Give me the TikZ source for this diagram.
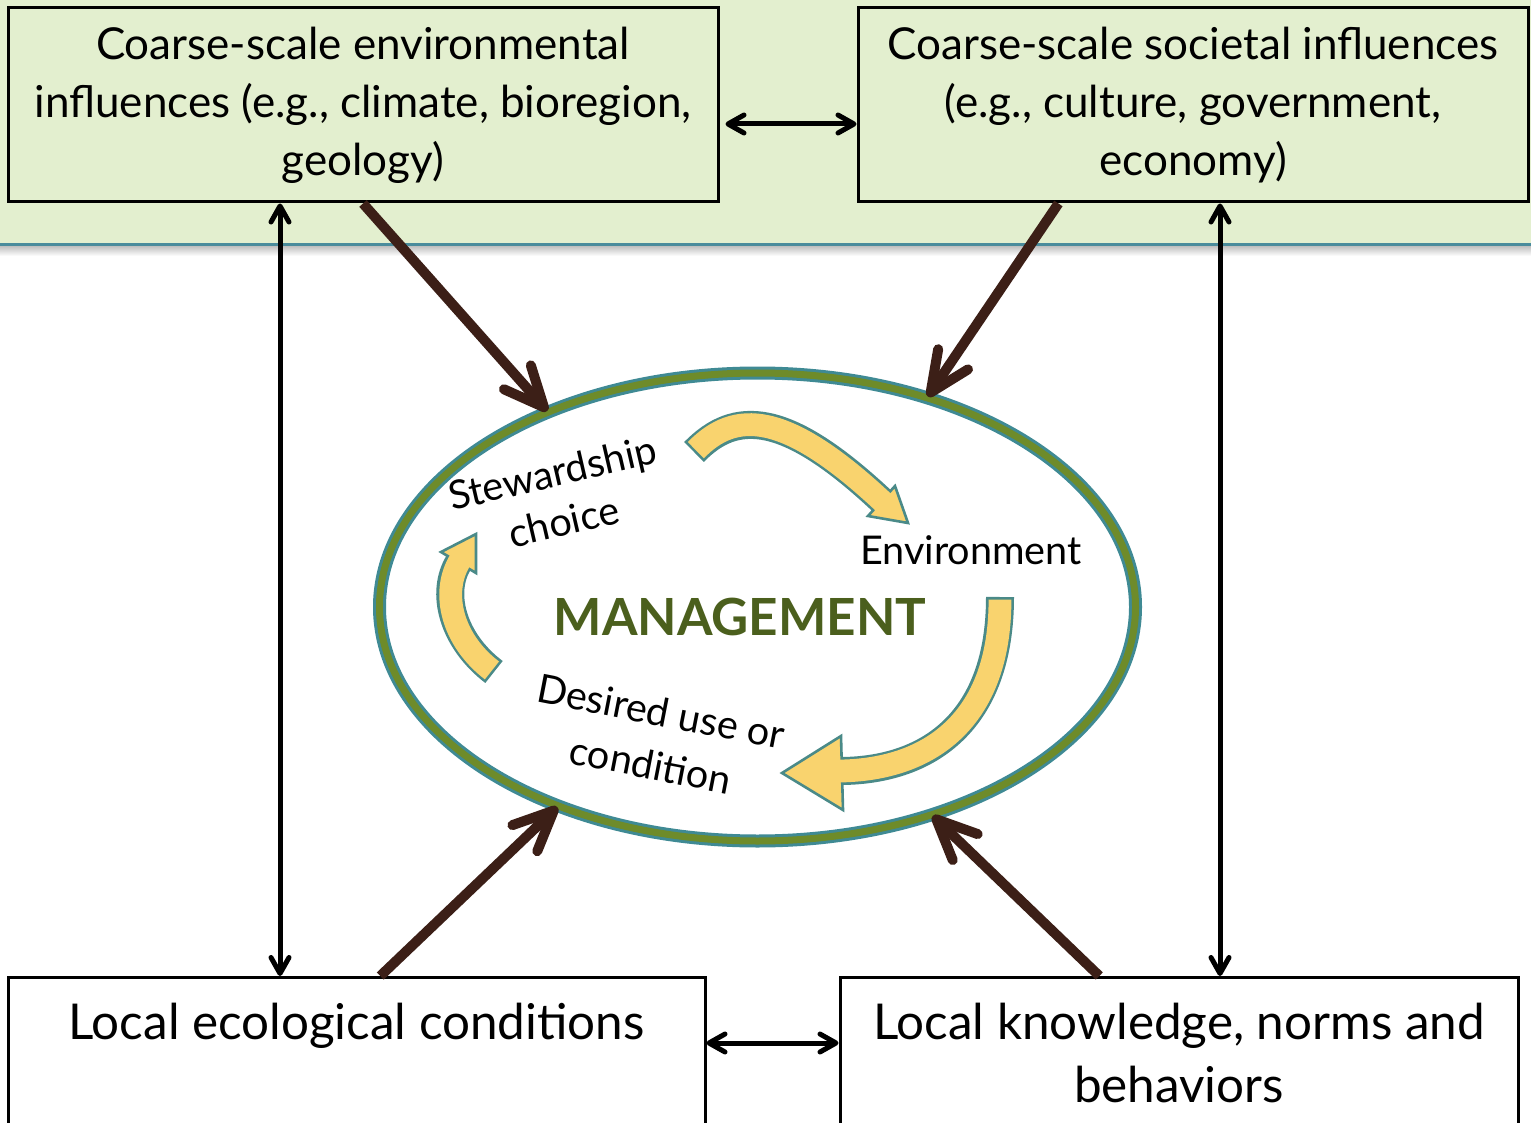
\documentclass[tikz,border=0pt]{standalone}
\usepackage{fontspec}
\setmainfont{Lato}
\usepackage{tikz}
\usetikzlibrary{calc,arrows.meta,shapes.geometric}

\definecolor{bandgreen}{HTML}{E3EFCF}
\definecolor{bandline}{HTML}{4A8C9C}
\definecolor{arrowbrown}{HTML}{3C1F17}
\definecolor{cycleyellow}{HTML}{F9D36E}
\definecolor{cycleteal}{HTML}{4A8A88}
\definecolor{ringteal}{HTML}{3F8A94}
\definecolor{ringolive}{HTML}{6E8B2A}
\definecolor{mgmtgreen}{HTML}{4B5F1D}

\tikzset{
  topbox/.style={draw, line width=1.5pt, align=center, inner sep=0pt,
    minimum height=97pt, font=\fontsize{22}{29}\selectfont},
  lowbox/.style={draw, fill=white, line width=1.5pt, align=center, anchor=north,
    inner sep=0pt, text height=31pt, text depth=49pt, font=\fontsize{24.7}{31.5}\selectfont},
  ring/.style={ellipse, draw=ringteal, line width=1.5pt, double=ringolive,
    double distance=3.5pt, minimum width=378pt, minimum height=234pt},
  cyclelabel/.style={font=\fontsize{19.8}{25}\selectfont, align=center, inner sep=0pt},
  pushes/.style={draw=arrowbrown, line width=5pt,
    -{Straight Barb[length=20pt,width=18pt,round]}},
  links/.style={line width=2.5pt,
    {Straight Barb[length=8pt,width=9pt,round]}-{Straight Barb[length=8pt,width=9pt,round]}},
  bandout/.style={draw=cycleteal, line width=14pt},
  bandin/.style={draw=cycleyellow, line width=11.4pt, shorten <=1.3pt, shorten >=-1.5pt},
  bandhead/.style={fill=cycleyellow, draw=cycleteal, line width=1.3pt, line join=miter}
}

% yellow cycle arrow: band path, then head corners
\newcommand{\cyclearrow}[2]{%
  \draw[bandout] #1;
  \filldraw[bandhead] #2 -- cycle;
  \draw[bandin] #1;
}

\begin{document}
\begin{tikzpicture}[x=0.5pt,y=-0.5pt]
\useasboundingbox (0,0) rectangle (1531,1123);
\fill[white] (0,0) rectangle (1531,1123);
\fill[bandgreen] (0,0) rectangle (1531,245);
\shade[top color=black!25, bottom color=white] (0,246) rectangle (1531,256);
\draw[bandline, line width=1.5pt] (0,245) -- (1531,245);

\node[topbox, minimum width=355pt] (env) at (363,105)
  {Coarse-scale environmental\\influences (e.g., climate, bioregion,\\geology)};
\node[topbox, minimum width=335pt] (soc) at (1193,105)
  {Coarse-scale societal influences\\(e.g., culture, government,\\economy)};
\node[lowbox, minimum width=348.5pt] (eco) at (356.5,976)
  {Local ecological conditions};
\node[lowbox, minimum width=339pt, text height=62.5pt, text depth=17.5pt] (know) at (1179,976)
  {Local knowledge, norms and\\behaviors};

\node[ring] (mgmt) at (757.5,607) {};
\node[font=\fontsize{25.6}{30}\selectfont\bfseries, text=mgmtgreen, inner sep=0pt] (title) at (740,617) {MANAGEMENT};
\node[cyclelabel, rotate=13] (steward) at (558,497) {Stewardship\\choice};
\node[cyclelabel] (environ) at (971,550) {Environment};
\node[cyclelabel, rotate=-11, font=\fontsize{19.8}{27}\selectfont] (desired) at (656,738) {Desired use or\\condition};

\cyclearrow{(694,452) .. controls (735,410) and (785,410) .. (882,501)}{(895,486) -- (908,523) -- (868,516)}
\cyclearrow{(1000,597) .. controls (1000,720) and (930,770) .. (842,771)}{(841,736) -- (782,773) -- (843,810)}
\cyclearrow{(494,672) .. controls (452,640) and (440,592) .. (459,562)}{(441,552) -- (476,534) -- (476,573)}

\draw[pushes] (env.south) -- (mgmt.137);
\draw[pushes] ($(soc.south west)!0.3!(soc.south east)$) -- (mgmt.51);
\draw[pushes] ($(eco.north west)!0.534!(eco.north east)$) -- (mgmt.225);
\draw[pushes] ($(know.north west)!0.383!(know.north east)$) -- (mgmt.310);

\coordinate (lx) at (280,0);
\coordinate (rx) at (1220,0);
\coordinate (hy) at (0,1043);
\draw[links] (env.south -| lx) -- (eco.north -| lx);
\draw[links] (soc.south -| rx) -- (know.north -| rx);
\draw[links, shorten <=3pt] ([yshift=-9.5pt]env.east) -- ([yshift=-9.5pt]soc.west);
\draw[links] (eco.east |- hy) -- (know.west |- hy);
\end{tikzpicture}
\end{document}
